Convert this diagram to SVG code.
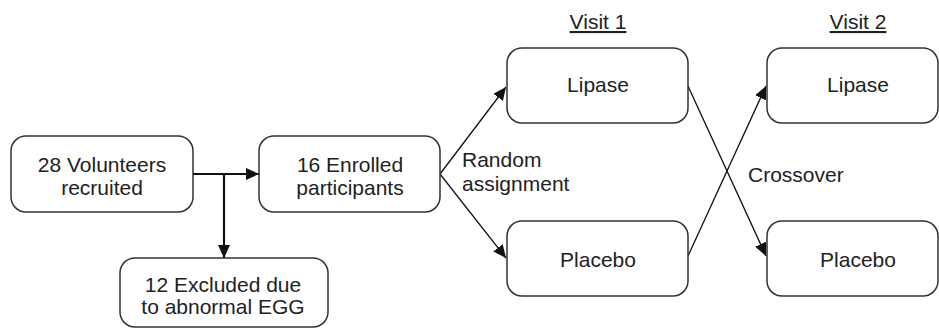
<svg xmlns="http://www.w3.org/2000/svg" width="939" height="328" viewBox="0 0 939 328">
<style>
.box{fill:#fff;stroke:#333;stroke-width:1.5}
.t{font-family:"Liberation Sans",Arial,sans-serif;font-size:21px;fill:#222;text-anchor:middle}
.l{text-anchor:start}
.c{stroke:#111;fill:none}
.thick{stroke-width:2.2}
.thin{stroke-width:1.3}
</style>
<defs>
<marker id="ah" markerUnits="userSpaceOnUse" markerWidth="13" markerHeight="12" refX="13" refY="6" orient="auto">
<path d="M0,0 L13,6 L0,12 z" fill="#111"/>
</marker>
</defs>
<rect width="939" height="328" fill="#fff"/>
<g id="connectors">
<line class="c thick" x1="193" y1="174" x2="259" y2="174" marker-end="url(#ah)"/>
<line class="c thick" x1="224" y1="174" x2="224" y2="258" marker-end="url(#ah)"/>
<line class="c thin" x1="440" y1="174" x2="506" y2="87" marker-end="url(#ah)"/>
<line class="c thin" x1="440" y1="174" x2="506" y2="258" marker-end="url(#ah)"/>
<line class="c thin" x1="688" y1="86" x2="766" y2="256" marker-end="url(#ah)"/>
<line class="c thin" x1="688" y1="256" x2="766" y2="86" marker-end="url(#ah)"/>
</g>
<g id="volunteers">
<rect class="box" x="11" y="136" width="182" height="76" rx="15"/>
<text class="t" x="102" y="172">28 Volunteers</text>
<text class="t" x="102" y="195">recruited</text>
</g>
<g id="enrolled">
<rect class="box" x="259" y="136" width="181" height="76" rx="15"/>
<text class="t" x="350" y="172">16 Enrolled</text>
<text class="t" x="350" y="195">participants</text>
</g>
<g id="excluded">
<rect class="box" x="120" y="258" width="208" height="69" rx="15"/>
<text class="t" x="223" y="292">12 Excluded due</text>
<text class="t" x="223" y="314">to abnormal EGG</text>
</g>
<g id="random-label">
<text class="t l" x="462" y="167">Random</text>
<text class="t l" x="462" y="191">assignment</text>
</g>
<g id="visit1-label">
<text class="t" x="598" y="29" text-decoration="underline">Visit 1</text>
</g>
<g id="visit2-label">
<text class="t" x="858" y="29" text-decoration="underline">Visit 2</text>
</g>
<g id="lipase1">
<rect class="box" x="507" y="48" width="181" height="75" rx="15"/>
<text class="t" x="598" y="92">Lipase</text>
</g>
<g id="placebo1">
<rect class="box" x="507" y="221" width="181" height="75" rx="15"/>
<text class="t" x="598" y="267">Placebo</text>
</g>
<g id="crossover-label">
<text class="t l" x="748" y="182">Crossover</text>
</g>
<g id="lipase2">
<rect class="box" x="767" y="48" width="171" height="75" rx="15"/>
<text class="t" x="858" y="92">Lipase</text>
</g>
<g id="placebo2">
<rect class="box" x="767" y="221" width="171" height="75" rx="15"/>
<text class="t" x="858" y="267">Placebo</text>
</g>
</svg>
